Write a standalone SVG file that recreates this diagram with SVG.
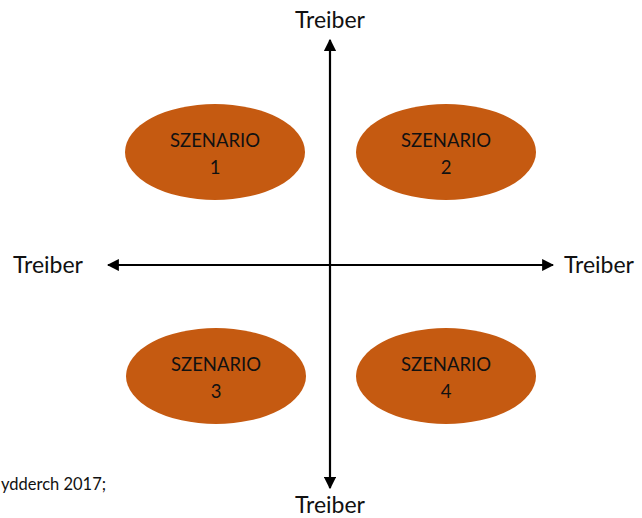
<svg xmlns="http://www.w3.org/2000/svg" width="642" height="518" viewBox="0 0 642 518">
  <style>
    .lbl { font-family: "Lato", "Liberation Sans", sans-serif; font-size: 23px; fill: #111; }
    .scn { fill: #C55A11; }
    .scn-t { font-family: "Lato", "Liberation Sans", sans-serif; font-size: 18.5px; fill: #111; text-anchor: middle; }
    .axis { stroke: #000; stroke-width: 2.2; fill: none; }
    .note { font-family: "Lato", "Liberation Sans", sans-serif; font-size: 16.5px; fill: #111; }
  </style>
  <defs>
    <marker id="ah" viewBox="0 0 10 10" refX="9" refY="5" markerWidth="5.5" markerHeight="5.5" orient="auto-start-reverse">
      <path d="M0,0 L10,5 L0,10 z" fill="#000"/>
    </marker>
  </defs>
  <rect width="642" height="518" fill="#fff"/>

  <g id="connectors">
    <line class="axis" x1="330" y1="488" x2="330" y2="40" marker-start="url(#ah)" marker-end="url(#ah)"/>
    <line class="axis" x1="108" y1="265" x2="553" y2="265" marker-start="url(#ah)" marker-end="url(#ah)"/>
  </g>

  <g id="labels">
    <text class="lbl" x="330" y="28" text-anchor="middle">Treiber</text>
    <text class="lbl" x="330" y="513" text-anchor="middle">Treiber</text>
    <text class="lbl" x="48" y="273" text-anchor="middle">Treiber</text>
    <text class="lbl" x="599" y="273" text-anchor="middle">Treiber</text>
    <text class="note" x="1" y="490">ydderch 2017;</text>
  </g>

  <g id="scenario1">
    <ellipse class="scn" cx="215" cy="152" rx="90" ry="48"/>
    <text class="scn-t" x="215" y="147">SZENARIO</text>
    <text class="scn-t" x="215" y="174">1</text>
  </g>
  <g id="scenario2">
    <ellipse class="scn" cx="446" cy="152" rx="90" ry="48"/>
    <text class="scn-t" x="446" y="147">SZENARIO</text>
    <text class="scn-t" x="446" y="174">2</text>
  </g>
  <g id="scenario3">
    <ellipse class="scn" cx="216" cy="376" rx="90" ry="48"/>
    <text class="scn-t" x="216" y="371">SZENARIO</text>
    <text class="scn-t" x="216" y="398">3</text>
  </g>
  <g id="scenario4">
    <ellipse class="scn" cx="446" cy="376" rx="90" ry="48"/>
    <text class="scn-t" x="446" y="371">SZENARIO</text>
    <text class="scn-t" x="446" y="398">4</text>
  </g>
</svg>
